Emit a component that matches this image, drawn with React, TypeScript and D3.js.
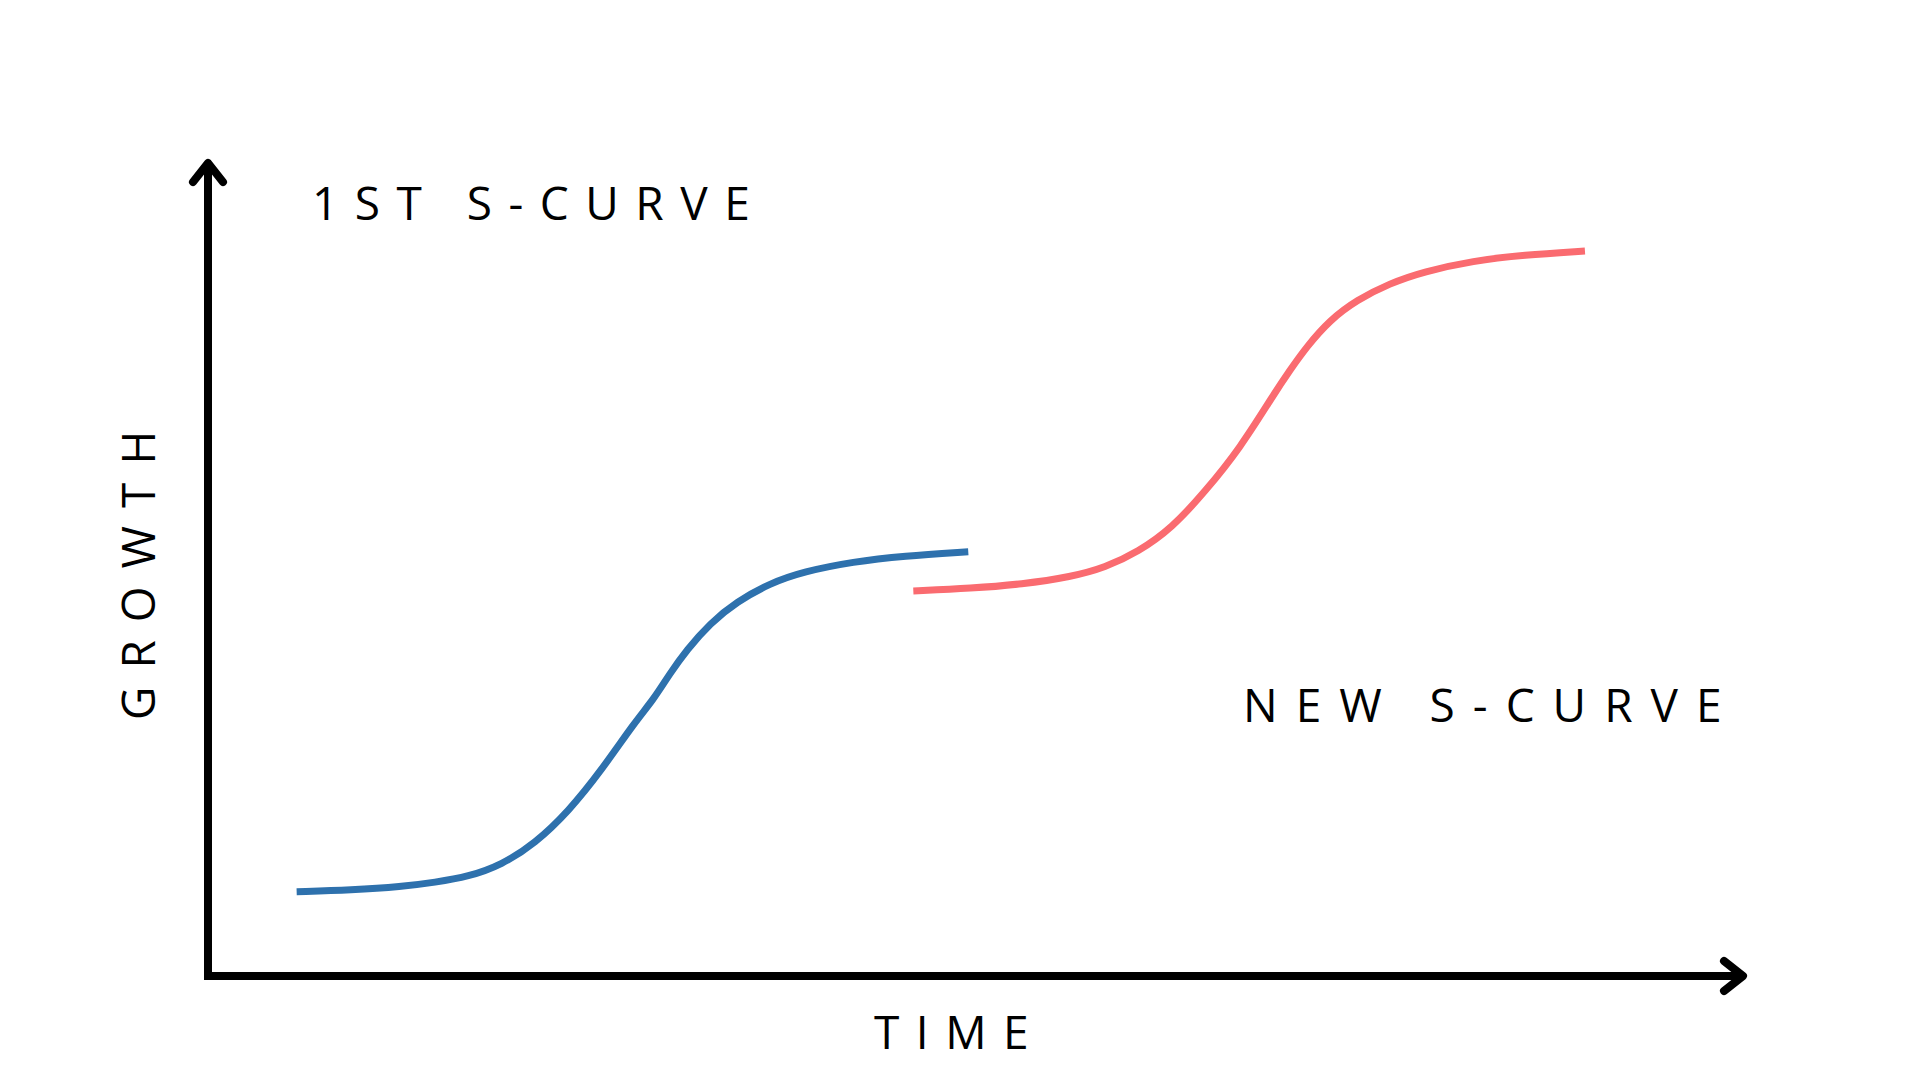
import React from "react";
import * as d3 from "d3";

const firstTime = [5.76, 9.34, 12.59, 14.75, 16.91, 19.08, 21.25, 23.41, 25.58, 27.75, 28.93, 30.02, 31.1, 32.62, 34.35, 36.52, 38.68, 41.93, 45.18, 49.4];
const firstGrowth = [10.32, 10.53, 10.93, 11.47, 12.15, 13.59, 16.24, 20.11, 25.21, 31.13, 33.78, 37.05, 39.9, 43.17, 45.81, 48.07, 49.49, 50.71, 51.41, 51.93];
const newTime = [45.83, 49.62, 52.87, 56.12, 58.28, 60.45, 62.62, 64.78, 67.06, 69.22, 70.31, 71.39, 72.9, 74.64, 76.8, 78.97, 82.22, 85.46, 89.47];
const newGrowth = [47.12, 47.45, 47.94, 48.87, 49.98, 51.93, 54.8, 59.28, 64.59, 71.11, 74.17, 77.03, 80.29, 82.74, 84.79, 86.21, 87.55, 88.25, 88.74];

const labels = { first: "1ST S-CURVE", second: "NEW S-CURVE", x: "TIME", y: "GROWTH" };

export default function App() {
  const W = 1920, H = 1080;
  const x = d3.scaleLinear().domain([0, 100]).range([208, 1747]);
  const y = d3.scaleLinear().domain([0, 100]).range([976, 159]);
  const line = d3
    .line<[number, number]>()
    .x((d) => x(d[0]))
    .y((d) => y(d[1]))
    .curve(d3.curveBasis);
  const first = firstTime.map((t, i) => [t, firstGrowth[i]] as [number, number]);
  const second = newTime.map((t, i) => [t, newGrowth[i]] as [number, number]);

  const x0 = x(0), y0 = y(0), xMax = x(100), yMax = y(100);
  const aw = 8;
  const font = "'Open Sans', sans-serif";

  return (
    <svg width={W} height={H} style={{ position: "fixed", left: 0, top: 0, background: "#fff" }}>
      <rect width={W} height={H} fill="#fff" />
      {/* axes */}
      <line x1={x0} y1={yMax + 4} x2={x0} y2={y0 + aw / 2} stroke="#000" strokeWidth={aw} />
      <line x1={x0} y1={y0} x2={xMax - 4} y2={y0} stroke="#000" strokeWidth={aw} />
      <polyline
        points={`${x0 - 15},${yMax + 23} ${x0},${yMax + 4} ${x0 + 15},${yMax + 23}`}
        fill="none" stroke="#000" strokeWidth={aw} strokeLinecap="round" strokeLinejoin="round"
      />
      <polyline
        points={`${xMax - 23},${y0 - 15} ${xMax - 4},${y0} ${xMax - 23},${y0 + 15}`}
        fill="none" stroke="#000" strokeWidth={aw} strokeLinecap="round" strokeLinejoin="round"
      />
      {/* curves */}
      <path d={line(first) || ""} fill="none" stroke="#2E71AD" strokeWidth={7} />
      <path d={line(second) || ""} fill="none" stroke="#FA6B70" strokeWidth={7} />
      {/* labels */}
      <g fontFamily={font} fontSize={46} fontWeight={500} fill="#000">
        <text x={312} y={220} style={{ letterSpacing: "16.5px" }}>{labels.first}</text>
        <text x={1243} y={722} style={{ letterSpacing: "18px" }}>{labels.second}</text>
        <text x={874} y={1049} style={{ letterSpacing: "16.5px" }}>{labels.x}</text>
        <text transform="translate(155,720) rotate(-90)" x={0} y={0} style={{ letterSpacing: "18px" }}>{labels.y}</text>
      </g>
    </svg>
  );
}
